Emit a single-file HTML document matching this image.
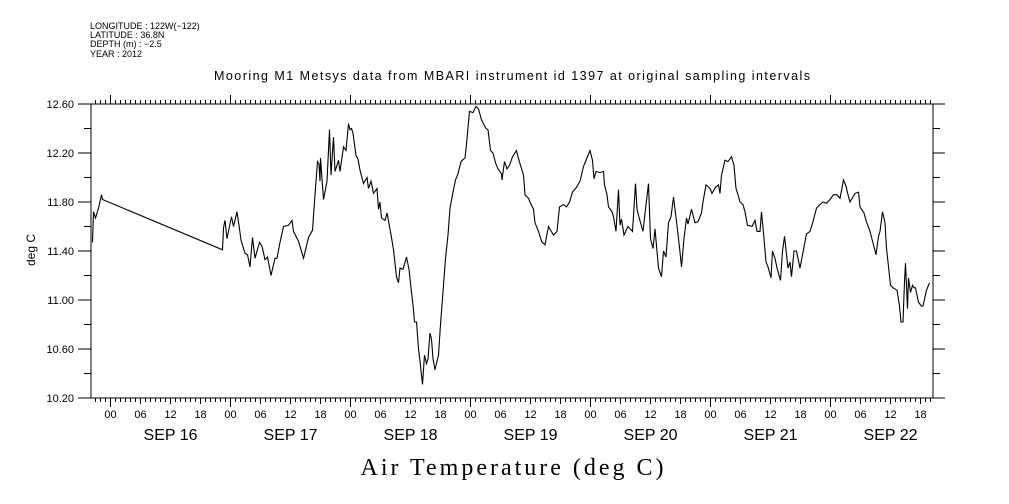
<!DOCTYPE html>
<html><head><meta charset="utf-8"><style>
html,body{margin:0;padding:0;background:#fff;}
svg{display:block;font-family:"Liberation Sans",sans-serif;}
</style></head><body>
<svg id="chart" width="1009" height="504" viewBox="0 0 1009 504" xmlns="http://www.w3.org/2000/svg">
<g font-size="9" fill="#000">
<text x="90" y="29">LONGITUDE : 122W(−122)</text>
<text x="90" y="38">LATITUDE : 36.8N</text>
<text x="90" y="47">DEPTH (m) : −2.5</text>
<text x="90" y="57">YEAR : 2012</text>
</g>
<text x="512" y="80" text-anchor="middle" font-size="12.5" textLength="596">Mooring M1 Metsys data from MBARI instrument id 1397 at original sampling intervals</text>
<text transform="translate(35,250) rotate(-90)" text-anchor="middle" font-size="12">deg C</text>
<text x="512" y="475" text-anchor="middle" font-family="Liberation Serif, serif" font-size="24" textLength="303">Air Temperature (deg C)</text>
<rect x="91" y="104" width="842" height="294" fill="none" stroke="#000" stroke-width="1"/>
<g id="axes"></g>
<g id="series"></g>
</svg>
<script>
const hours = [-3.6,-3.4,-3.0,-2.4,-1.8,-1.6,22.4,22.6,22.9,23.3,24.2,24.6,25.3,25.7,26.1,26.9,27.4,27.9,28.4,28.9,29.8,30.3,30.9,31.4,32.1,32.9,33.3,33.9,34.6,35.6,36.3,36.6,37.6,38.6,39.6,40.4,40.9,41.4,41.7,41.9,42.0,42.6,43.3,43.8,44.1,44.6,44.9,45.6,45.9,46.6,47.1,47.6,47.9,48.2,48.5,49.1,49.5,49.9,50.6,51.3,51.6,52.1,52.6,53.3,53.6,53.9,54.2,54.9,55.3,55.8,56.2,56.6,57.2,57.6,57.9,58.5,59.2,59.7,60.1,60.6,60.8,61.2,61.6,61.9,62.4,62.8,63.2,63.5,63.9,64.2,64.5,64.9,65.6,66.0,66.6,67.0,67.5,67.9,68.5,69.0,69.5,70.1,70.9,71.2,71.8,72.5,73.1,73.6,74.2,75.1,75.5,76.0,76.5,77.0,77.5,78.2,78.3,78.8,79.3,79.8,80.4,81.2,81.5,82.0,82.6,82.9,83.6,83.9,84.6,84.9,85.6,86.2,86.9,87.6,88.6,89.3,89.8,90.6,91.2,91.8,92.4,93.2,93.9,94.6,95.9,96.4,96.7,97.1,97.9,98.6,98.8,99.3,99.6,100.3,100.6,101.1,101.6,101.9,102.2,102.7,103.5,104.4,105.0,105.3,105.8,106.5,107.0,107.6,108.0,108.5,108.9,109.6,110.2,110.6,111.1,111.6,112.1,112.6,113.2,113.8,114.2,114.7,115.2,115.5,116.2,116.9,117.5,118.2,118.5,119.1,119.9,120.3,121.0,121.6,121.9,122.2,122.9,123.5,124.2,124.7,125.1,125.5,125.9,126.5,126.9,127.4,128.3,128.9,129.3,129.9,130.2,130.7,131.1,131.5,132.1,132.4,132.9,133.3,134.0,134.4,134.8,135.5,135.9,136.2,136.7,137.2,137.9,138.5,139.2,139.9,140.5,141.2,141.9,142.5,143.2,143.9,144.6,145.2,145.9,146.6,147.1,147.5,147.9,148.9,149.6,149.9,150.7,151.1,151.9,152.6,153.1,153.6,153.9,154.4,154.9,155.2,155.5,156.0,156.5,157.3,157.8,158.1,158.5,158.8,159.0,159.4,159.6,160.0,160.4,160.7,161.0,161.6,162.2,162.5,163.2,163.8];
const temps = [11.47,11.72,11.67,11.75,11.86,11.82,11.41,11.59,11.65,11.50,11.68,11.60,11.72,11.61,11.49,11.38,11.37,11.27,11.51,11.34,11.47,11.44,11.33,11.35,11.20,11.34,11.34,11.47,11.60,11.61,11.65,11.56,11.48,11.34,11.51,11.57,11.86,12.13,12.11,11.97,12.16,11.82,11.97,12.39,12.02,12.33,12.05,12.14,12.05,12.25,12.22,12.44,12.39,12.40,12.36,12.18,12.15,12.06,11.95,12.00,11.91,11.97,11.87,11.91,11.74,11.80,11.67,11.65,11.71,11.60,11.51,11.41,11.19,11.14,11.26,11.25,11.35,11.25,11.10,10.92,10.82,10.82,10.60,10.50,10.31,10.55,10.48,10.52,10.73,10.68,10.52,10.43,10.55,10.80,11.12,11.34,11.53,11.75,11.88,11.98,12.03,12.13,12.16,12.27,12.54,12.53,12.58,12.56,12.47,12.40,12.39,12.22,12.20,12.12,12.07,12.03,11.98,12.13,12.07,12.10,12.17,12.22,12.17,12.10,12.02,11.86,11.83,11.80,11.74,11.63,11.56,11.48,11.45,11.60,11.53,11.56,11.76,11.78,11.76,11.80,11.88,11.92,11.97,12.09,12.22,12.14,11.99,12.05,12.04,12.05,11.94,11.86,11.76,11.72,11.68,11.56,11.90,11.61,11.66,11.53,11.60,11.56,11.95,11.74,11.66,11.56,11.74,11.95,11.50,11.42,11.58,11.26,11.19,11.40,11.35,11.63,11.68,11.84,11.64,11.43,11.27,11.50,11.67,11.62,11.74,11.63,11.64,11.71,11.80,11.94,11.91,11.87,11.92,11.94,11.87,12.02,12.14,12.13,12.17,12.10,11.91,11.86,11.80,11.78,11.72,11.61,11.60,11.65,11.56,11.56,11.72,11.50,11.31,11.27,11.18,11.40,11.34,11.26,11.16,11.40,11.52,11.26,11.31,11.19,11.40,11.40,11.26,11.39,11.54,11.56,11.64,11.75,11.78,11.80,11.79,11.82,11.86,11.86,11.83,11.98,11.93,11.86,11.80,11.87,11.88,11.76,11.71,11.65,11.56,11.45,11.37,11.52,11.56,11.72,11.63,11.42,11.31,11.12,11.10,11.08,10.95,10.82,10.82,11.15,11.30,10.93,11.18,11.06,11.12,11.10,11.10,10.98,10.95,10.95,11.08,11.14];
const gapStart = 5; // index after which a straight connecting segment exists (data gap)
const yTickValues = [12.60,12.20,11.80,11.40,11.00,10.60,10.20];
const hourLabels = ["00","06","12","18"];
const dayLabels = ["SEP 16","SEP 17","SEP 18","SEP 19","SEP 20","SEP 21","SEP 22"];

const X0 = 110.5, PXH = 5;           // Sep 16 00:00 at x=110.5, 5px/hour
const Y0 = 104, YMAX = 12.6, PXD = 122.5;
const xs = h => X0 + h * PXH;
const ys = v => Y0 + (YMAX - v) * PXD;
const NS = "http://www.w3.org/2000/svg";
const axes = document.getElementById('axes');
const series = document.getElementById('series');
function mk(tag, attrs, parent){const e=document.createElementNS(NS,tag);for(const k in attrs)e.setAttribute(k,attrs[k]);parent.appendChild(e);return e;}

// y ticks + labels
for (let i=0;i<=12;i++){
  const v = 10.2 + i*0.2, y = ys(v);
  const major = i%2===0;
  const tl = mk('line',{x1:major?78:84,x2:91,y1:y,y2:y,stroke:'#000'},axes);
  
  
  const tr = mk('line',{x1:933,x2:major?945:940,y1:y,y2:y,stroke:'#000'},axes);
  
  
}
yTickValues.forEach(v=>{
  const t = mk('text',{x:74,y:ys(v)+4,'text-anchor':'end','font-size':11},axes);
  t.textContent = v.toFixed(2);
  
  
});
// x ticks
for (let h=-3; h<=164; h++){
  const x = xs(h);
  const day = ((h%24)+24)%24===0;
  const six = ((h%6)+6)%6===0;
  const lenB = day?9:(six?6:4);
  const b = mk('line',{x1:x,x2:x,y1:398,y2:398+lenB,stroke:'#000'},axes);
  
  
  const t = mk('line',{x1:x,x2:x,y1:104,y2:104-(day?9:4),stroke:'#000'},axes);
  
  
  if (six){
    const lab = mk('text',{x:x,y:418,'text-anchor':'middle','font-size':11},axes);
    lab.textContent = hourLabels[(((h%24)+24)%24)/6];
    
    
  }
}
dayLabels.forEach((d,i)=>{
  const t = mk('text',{x:xs(i*24+12),y:440,'text-anchor':'middle','font-size':16},axes);
  t.textContent = d;
  
  
});
// series
const pts = hours.map((h,i)=>xs(h).toFixed(1)+','+ys(temps[i]).toFixed(1)).join(' ');
const line = mk('polyline',{points:pts,fill:'none',stroke:'#000','stroke-width':1.1,'stroke-linejoin':'miter'},series);


</script>
</body></html>
